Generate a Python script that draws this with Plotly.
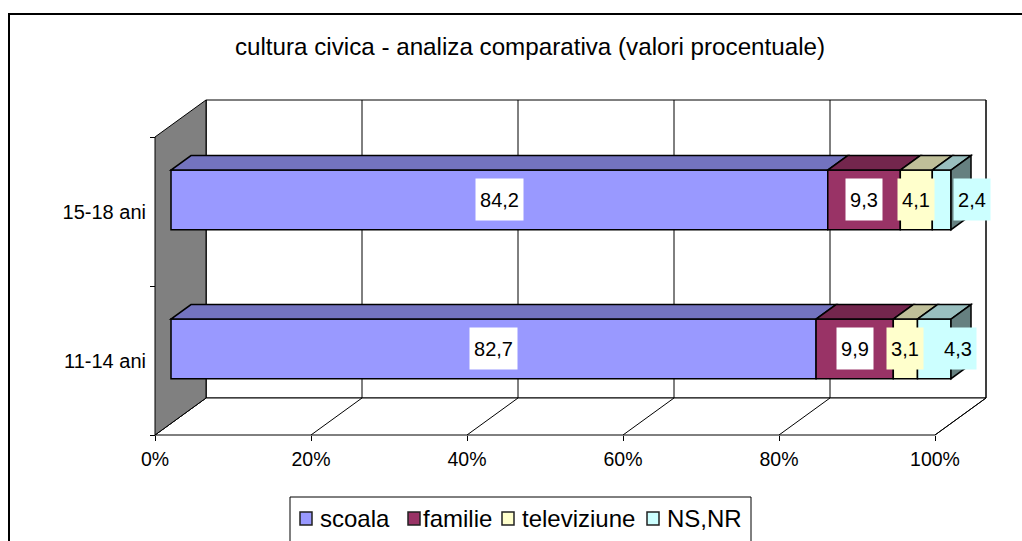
import plotly.graph_objects as go

# ---------------- data ----------------
categories = ['11-14 ani', '15-18 ani']
series_names = ['scoala', 'familie', 'televiziune', 'NS,NR']
scoala = [82.7, 84.2]
familie = [9.9, 9.3]
televiziune = [3.1, 4.1]
ns_nr = [4.3, 2.4]
x_tick_values = [0, 20, 40, 60, 80, 100]
x_tick_labels = ['0%', '20%', '40%', '60%', '80%', '100%']
title_text = 'cultura civica - analiza comparativa (valori procentuale)'

series_values = [scoala, familie, televiziune, ns_nr]

# ---------------- style ----------------
FONT = 'Arial, "Liberation Sans", sans-serif'
front_colors = ['#9999FF', '#993366', '#FFFFCC', '#CCFFFF']
top_colors = ['#7373BF', '#73264D', '#BFBF99', '#99BFBF']
side_colors = ['#4D4D80', '#4D1A33', '#808066', '#668080']
label_bg = ['white', 'white', '#FFFFCC', '#CCFFFF']
label_xshift = [[0, 0], [0, 0], [0, 0], [24, 30]]
legend_symbol_px = [300, 408, 502, 647]
legend_text_px = [319, 422, 521, 666]

W, H = 1022, 541
ORIGIN_PX = (155, 435)          # front-plane 0% / floor
PX_PER_PCT = 7.8
PX_PER_CAT = 149
DEPTH_PX = (51, 37)             # oblique depth offset of the back wall
DXU = DEPTH_PX[0] / PX_PER_PCT
DYU = DEPTH_PX[1] / PX_PER_CAT
D_FRONT, D_BACK = 0.314, 0.706  # bar depth (fraction of full depth)
HALF = 0.2                      # half bar thickness in category units

xmax = x_tick_values[-1]
ncat = len(categories)


def P(v, c, d):
    return (v + d * DXU, c + d * DYU)


def path(pts):
    return 'M ' + ' L '.join(f'{x:.4f},{y:.4f}' for x, y in pts) + ' Z'


def px(x):
    return x / W


def py(y):
    return 1 - y / H


shapes = []
# outer chart border
shapes.append(dict(type='rect', xref='paper', yref='paper', x0=px(9), x1=1.05,
                   y0=-0.05, y1=py(14), line=dict(color='black', width=2),
                   fillcolor='rgba(0,0,0,0)', layer='below'))
# back wall
shapes.append(dict(type='path', xref='x', yref='y', layer='below',
                   path=path([P(0, 0, 1), P(xmax, 0, 1), P(xmax, ncat, 1), P(0, ncat, 1)]),
                   fillcolor='white', line=dict(color='black', width=1)))
for v in x_tick_values:
    a, b = P(v, 0, 1), P(v, ncat, 1)
    shapes.append(dict(type='line', xref='x', yref='y', layer='below',
                       x0=a[0], y0=a[1], x1=b[0], y1=b[1], line=dict(color='black', width=1)))
# floor
shapes.append(dict(type='path', xref='x', yref='y', layer='below',
                   path=path([P(0, 0, 0), P(xmax, 0, 0), P(xmax, 0, 1), P(0, 0, 1)]),
                   fillcolor='white', line=dict(color='black', width=1)))
for v in x_tick_values:
    a, b = P(v, 0, 0), P(v, 0, 1)
    shapes.append(dict(type='line', xref='x', yref='y', layer='below',
                       x0=a[0], y0=a[1], x1=b[0], y1=b[1], line=dict(color='black', width=1)))
# left wall
shapes.append(dict(type='path', xref='x', yref='y', layer='below',
                   path=path([P(0, 0, 0), P(0, 0, 1), P(0, ncat, 1), P(0, ncat, 0)]),
                   fillcolor='#808080', line=dict(color='black', width=1)))

fig = go.Figure()
annotations = []
cum = [0.0] * ncat
for s, (name, vals) in enumerate(zip(series_names, series_values)):
    ys = [k + 0.5 + D_FRONT * DYU for k in range(ncat)]
    bases = [cum[k] + D_FRONT * DXU for k in range(ncat)]
    fig.add_trace(go.Bar(
        name=name, orientation='h', x=vals, y=ys, base=bases, width=2 * HALF,
        marker=dict(color=front_colors[s], line=dict(color='black', width=1.5)),
        hoverinfo='skip', showlegend=False))
    for k in range(ncat):
        a, b = cum[k], cum[k] + vals[k]
        c = k + 0.5
        # top face
        shapes.append(dict(type='path', xref='x', yref='y', layer='above',
                           path=path([P(a, c + HALF, D_FRONT), P(b, c + HALF, D_FRONT),
                                      P(b, c + HALF, D_BACK), P(a, c + HALF, D_BACK)]),
                           fillcolor=top_colors[s], line=dict(color='black', width=1.5)))
        if s == len(series_names) - 1:
            shapes.append(dict(type='path', xref='x', yref='y', layer='above',
                               path=path([P(b, c - HALF, D_FRONT), P(b, c + HALF, D_FRONT),
                                          P(b, c + HALF, D_BACK), P(b, c - HALF, D_BACK)]),
                               fillcolor=side_colors[s], line=dict(color='black', width=1.5)))
        txt = f'{vals[k]:.1f}'.replace('.', ',')
        lx, ly = P((a + b) / 2, c, D_FRONT)
        annotations.append(dict(
            x=lx, y=ly, xref='x', yref='y', text=txt, showarrow=False,
            font=dict(family=FONT, size=20, color='black'),
            bgcolor=label_bg[s], borderpad=0, width=11 * len(txt) + 3, height=41,
            xshift=label_xshift[s][k]))
    cum = [cum[k] + vals[k] for k in range(ncat)]

# legend (drawn as a framed key below the plot)
shapes.append(dict(type='rect', xref='paper', yref='paper', x0=px(290), x1=px(751),
                   y0=py(560), y1=py(497), line=dict(color='black', width=1),
                   fillcolor='white', layer='above'))
for s, name in enumerate(series_names):
    x0 = legend_symbol_px[s]
    shapes.append(dict(type='rect', xref='paper', yref='paper', x0=px(x0), x1=px(x0 + 12),
                       y0=py(525), y1=py(512), line=dict(color='#222222', width=1.5),
                       fillcolor=front_colors[s], layer='above'))
    annotations.append(dict(x=px(legend_text_px[s]), y=py(518.5), xref='paper', yref='paper',
                            xanchor='left', yanchor='middle', text=name, showarrow=False,
                            borderpad=0, font=dict(family=FONT, size=24, color='black')))

fig.update_layout(
    width=W, height=H, autosize=False,
    margin=dict(l=0, r=0, t=0, b=0),
    paper_bgcolor='white', plot_bgcolor='white',
    barmode='overlay', bargap=0, showlegend=False,
    font=dict(family=FONT, color='black'),
    title=dict(text=title_text, x=530 / W, xanchor='center', y=py(47), yanchor='middle',
               font=dict(family=FONT, size=24.2, color='black')),
    xaxis=dict(range=[-ORIGIN_PX[0] / PX_PER_PCT, (W - ORIGIN_PX[0]) / PX_PER_PCT],
               anchor='free', position=(H - ORIGIN_PX[1]) / H,
               tickvals=x_tick_values, ticktext=x_tick_labels,
               ticks='outside', ticklen=5, tickcolor='black', tickwidth=1,
               ticklabelstandoff=2,
               showgrid=False, zeroline=False, showline=False,
               tickfont=dict(family=FONT, size=19.5, color='black'), fixedrange=True),
    yaxis=dict(range=[-(H - ORIGIN_PX[1]) / PX_PER_CAT, ORIGIN_PX[1] / PX_PER_CAT],
               anchor='free', position=ORIGIN_PX[0] / W,
               tickvals=[k + 0.5 for k in range(ncat)], ticktext=categories,
               ticks='outside', ticklen=5, tickcolor='rgba(0,0,0,0)',
               minor=dict(tickvals=list(range(ncat + 1)), ticks='outside', ticklen=5,
                          tickcolor='black', tickwidth=1, showgrid=False),
               showgrid=False, zeroline=False, showline=False,
               tickfont=dict(family=FONT, size=20, color='black'), fixedrange=True),
    shapes=shapes, annotations=annotations,
)

fig.write_html('out.html', config={'displayModeBar': False, 'staticPlot': True},
               post_script="document.body.style.margin='0';document.body.style.overflow='hidden';")
